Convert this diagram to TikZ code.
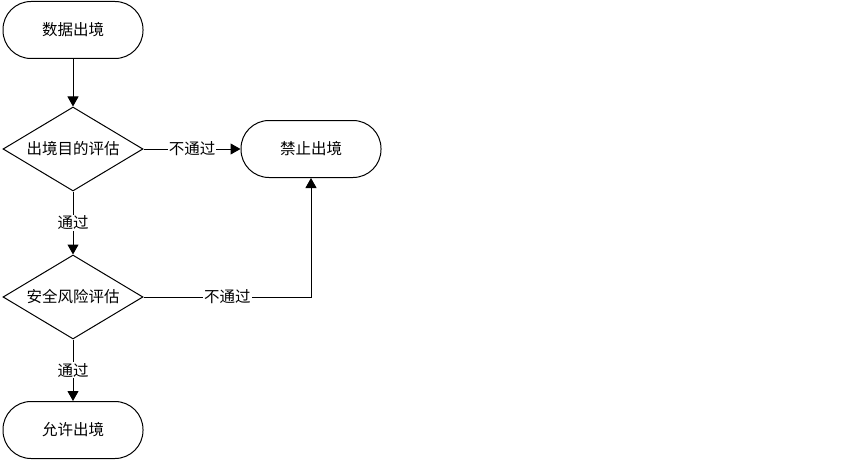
\documentclass[tikz,border=0pt]{standalone}
\usepackage{fontspec}
\newfontfamily\cjk{Noto Sans CJK SC}
\usetikzlibrary{shapes.geometric,arrows.meta}

\begin{document}
\begin{tikzpicture}[x=1pt,y=-1pt,
        every node/.style={font=\cjk\fontsize{15.5}{18}\selectfont},
        term/.style={draw,line width=1pt,rounded corners=28pt,minimum width=140pt,minimum height=57pt},
        test/.style={draw,line width=1pt,diamond,aspect=1.667,inner sep=0pt,minimum width=140pt,minimum height=84pt},
        flow/.style={line width=1pt,-{Triangle[length=10pt,width=11pt]}},
        lab/.style={fill=white,inner sep=1pt}]
        \useasboundingbox (0,0) rectangle (864,460);

        \node[term] (start) at (73,30) {数据出境};
        \node[test] (purpose) at (73,149) {出境目的评估};
        \node[term] (deny) at (311,149) {禁止出境};
        \node[test] (risk) at (73,297) {安全风险评估};
        \node[term] (allow) at (73,430) {允许出境};

        \draw[flow] (start) -- (purpose);
        \draw[flow] (purpose) -- node[lab] {不通过} (deny);
        \draw[flow] (purpose) -- node[lab] {通过} (risk);
        \draw[flow] (risk.east) -| node[lab,pos=0.25] {不通过} (deny.south);
        \draw[flow] (risk) -- node[lab] {通过} (allow);
\end{tikzpicture}
\end{document}
